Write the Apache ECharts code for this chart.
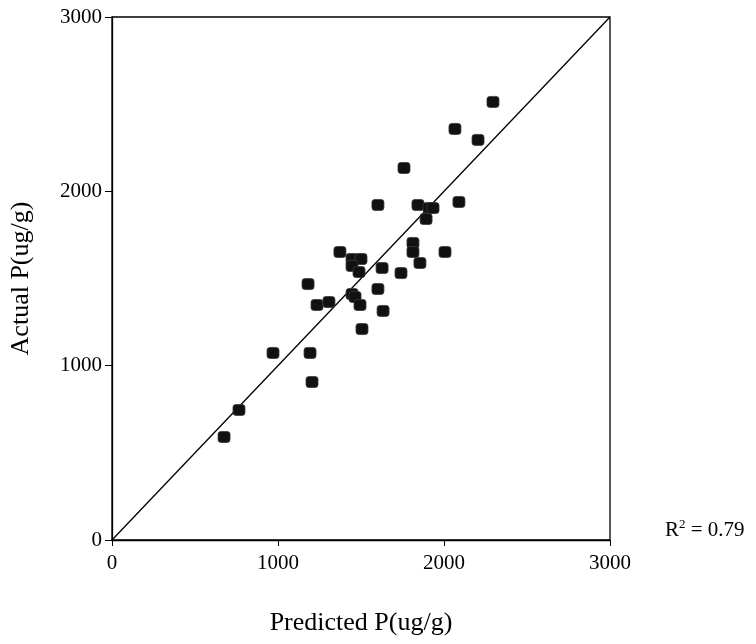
<!DOCTYPE html>
<html><head><meta charset="utf-8">
<script src="https://cdn.jsdelivr.net/npm/echarts@6/dist/echarts.min.js"></script>
<style>html,body{margin:0;padding:0;background:#fff}#c{width:756px;height:644px}</style>
</head><body><div id="c"></div>
<script>
const predicted = [2295,2066,2205,1759,1602,1843,1910,1934,1892,2090,1813,1813,2006,1855,1741,1627,1373,1446,1500,1446,1488,1181,1602,1235,1307,1446,1464,1494,1633,1506,970,1193,1205,765,675];
const actual    = [2513,2358,2295,2134,1922,1922,1904,1904,1841,1939,1704,1652,1652,1589,1531,1560,1652,1612,1612,1572,1537,1468,1440,1348,1365,1411,1394,1348,1314,1210,1073,1073,906,746,591];
const refLine = [[0,0],[3000,3000]];
const axisMin = 0, axisMax = 3000, axisStep = 1000;
const r2Text = '0.79';

const font = 'Liberation Serif, Times New Roman, serif';
const chart = echarts.init(document.getElementById('c'));
chart.setOption({
  animation:false,
  grid:{left:112,right:146,top:17,bottom:104,show:true,borderColor:'#000',borderWidth:1.3},
  xAxis:{type:'value',min:axisMin,max:axisMax,interval:axisStep,
    name:'Predicted P(ug/g)',nameLocation:'middle',nameGap:70,
    nameTextStyle:{fontFamily:font,fontSize:26,color:'#000'},
    axisLine:{show:true,lineStyle:{color:'#000',width:1.3}},
    axisTick:{show:true,length:6,lineStyle:{color:'#000'}},
    axisLabel:{fontFamily:font,fontSize:21,color:'#000',margin:13,formatter:v=>String(v)},
    splitLine:{show:false}},
  yAxis:{type:'value',min:axisMin,max:axisMax,interval:axisStep,
    name:'Actual P(ug/g)',nameLocation:'middle',nameGap:78,
    nameTextStyle:{fontFamily:font,fontSize:26,color:'#000'},
    axisLine:{show:true,lineStyle:{color:'#000',width:1.3}},
    axisTick:{show:true,length:7,lineStyle:{color:'#000'}},
    axisLabel:{fontFamily:font,fontSize:21,color:'#000',margin:10,formatter:v=>String(v)},
    splitLine:{show:false}},
  graphic:[{type:'text',left:665,top:518,style:{
    text:'{a|R}{s|2}{a| = '+r2Text+'}',
    rich:{a:{fontFamily:font,fontSize:21,fill:'#000',verticalAlign:'bottom'},
          s:{fontFamily:font,fontSize:13,fill:'#000',verticalAlign:'top',padding:[0,0,10,0]}}
  }}],
  series:[
    {type:'line',data:refLine,symbol:'none',lineStyle:{color:'#000',width:1.3},silent:true,z:1},
    {type:'scatter',data:predicted.map((p,i)=>[p,actual[i]]),symbol:'roundRect',symbolSize:[12,11],
     itemStyle:{color:'#111',opacity:1,borderColor:'#3a3a3a',borderWidth:0.8},z:2}
  ]
});
</script></body></html>
